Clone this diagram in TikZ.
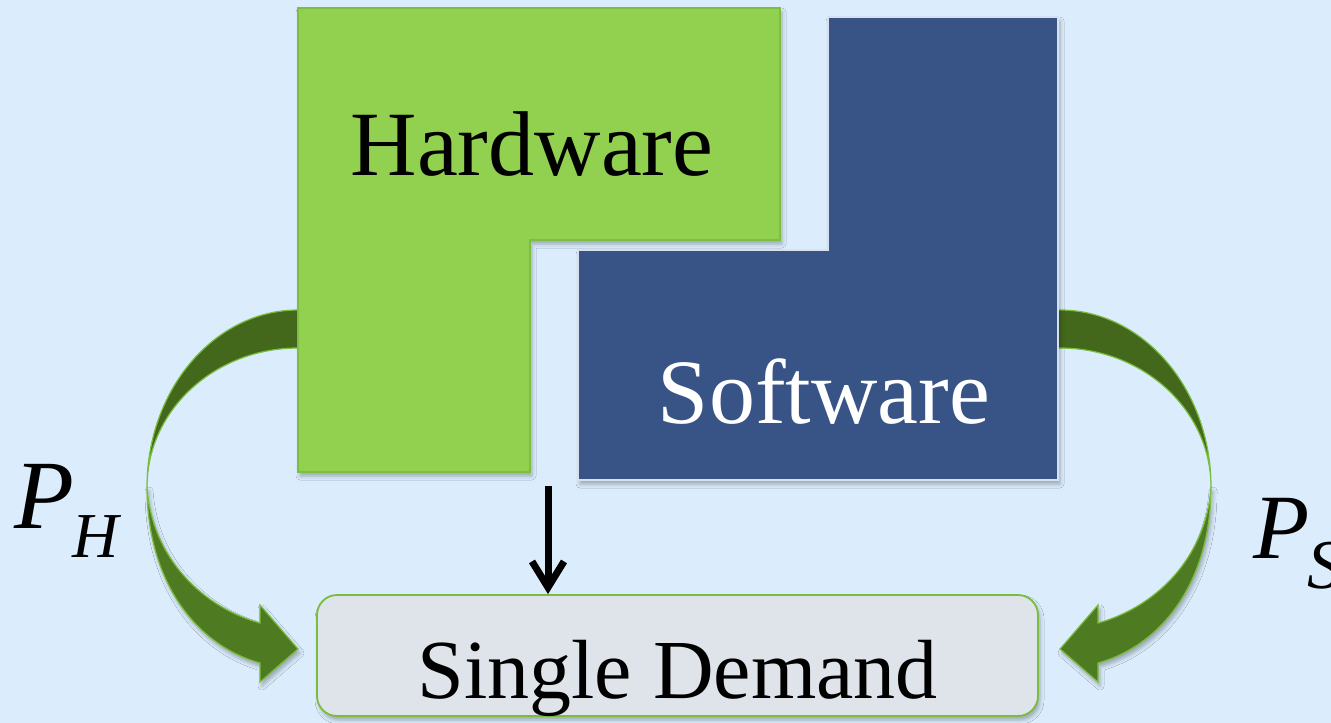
\documentclass[tikz,border=0pt]{standalone}
\usepackage{fontspec}
\setmainfont{Liberation Serif}
\usetikzlibrary{arrows.meta,shadows.blur}
\definecolor{bgblue}{HTML}{DBEDFC}
\definecolor{hwgreen}{HTML}{92D050}
\definecolor{hwedge}{HTML}{7CBD44}
\definecolor{swblue}{HTML}{385487}
\definecolor{swedge}{HTML}{D8E0EE}
\definecolor{ribbondark}{HTML}{43681B}
\definecolor{ribbonmid}{HTML}{4E7B22}
\definecolor{ribbonedge}{HTML}{7ABC3C}
\definecolor{boxgray}{HTML}{DFE3EA}

\begin{document}
\begin{tikzpicture}[x=1pt,y=-1pt,
  softshadow/.style={blur shadow={shadow xshift=2pt,shadow yshift=-4pt,shadow blur radius=4pt,shadow opacity=30}},
  hwblock/.style={fill=hwgreen,draw=hwedge,line width=1.5pt,softshadow},
  swblock/.style={fill=swblue,draw=swedge,line width=1.5pt,softshadow},
  bigword/.style={font=\fontsize{92}{92}\selectfont,anchor=base,inner sep=0pt},
  ribbonback/.style={fill=ribbondark,draw=ribbonedge,line width=1.2pt,line join=round},
  ribbonfront/.style={fill=ribbonmid,draw=ribbonedge,line width=1.2pt,line join=miter,softshadow},
  demandbox/.style={rounded corners=20pt,fill=boxgray,draw=ribbonedge,line width=1.8pt,
    minimum width=721pt,inner sep=0pt,text height=103pt,text depth=18pt,
    font=\fontsize{84}{84}\selectfont,softshadow},
  plabel/.style={anchor=base west,inner sep=0pt,font=\itshape},
  droparrow/.style={line width=7pt,-{Straight Barb[length=26pt,width=32pt]}}
]
\useasboundingbox (0,0) rectangle (1331,723);
\fill[bgblue] (0,0) rectangle (1331,723);

% curved ribbon from the hardware block down to the demand box
\path[ribbonback] (303,310) -- (298,310) .. controls (215,310) and (147,389) .. (147,487)
  .. controls (147,410) and (215,348) .. (298,348) -- (303,348) -- cycle;
\path[ribbonfront] (147,487) .. controls (147,580) and (195,645) .. (260,663)
  -- (260,682) -- (298,649) -- (260,605) -- (260,623)
  .. controls (205,608) and (152,560) .. (147,487) -- cycle;

% the same ribbon mirrored, from the software block
\begin{scope}[xshift=1358pt,xscale=-1]
\path[ribbonback] (303,310) -- (298,310) .. controls (215,310) and (147,389) .. (147,487)
  .. controls (147,410) and (215,348) .. (298,348) -- (303,348) -- cycle;
\path[ribbonfront] (147,487) .. controls (147,580) and (195,645) .. (260,663)
  -- (260,682) -- (298,649) -- (260,605) -- (260,623)
  .. controls (205,608) and (152,560) .. (147,487) -- cycle;
\end{scope}

% interlocking L-shaped blocks
\path[hwblock] (298,8) -- (780,8) -- (780,240) -- (530,240) -- (530,472) -- (298,472) -- cycle;
\path[swblock] (828,17) -- (1058,17) -- (1058,480) -- (578,480) -- (578,250) -- (828,250) -- cycle;

\node[bigword] (hw) at (532,175) {Hardware};
\node[bigword,text=white] (sw) at (824,423) {Software};

\node[demandbox] (demand) at (677.5,655.5) {Single Demand};

\coordinate (drop) at (548,486);
\draw[droparrow] (drop) -- (drop |- demand.north);

\node[plabel] (ph) at (14,528) {\fontsize{98}{98}\selectfont P\kern-0.02em\raisebox{-0.3em}{\fontsize{64}{64}\selectfont H}};
\node[plabel] (ps) at (1253,558) {\fontsize{92}{92}\selectfont P\kern-0.02em\raisebox{-0.33em}{\fontsize{70}{70}\selectfont S}};
\end{tikzpicture}
\end{document}
